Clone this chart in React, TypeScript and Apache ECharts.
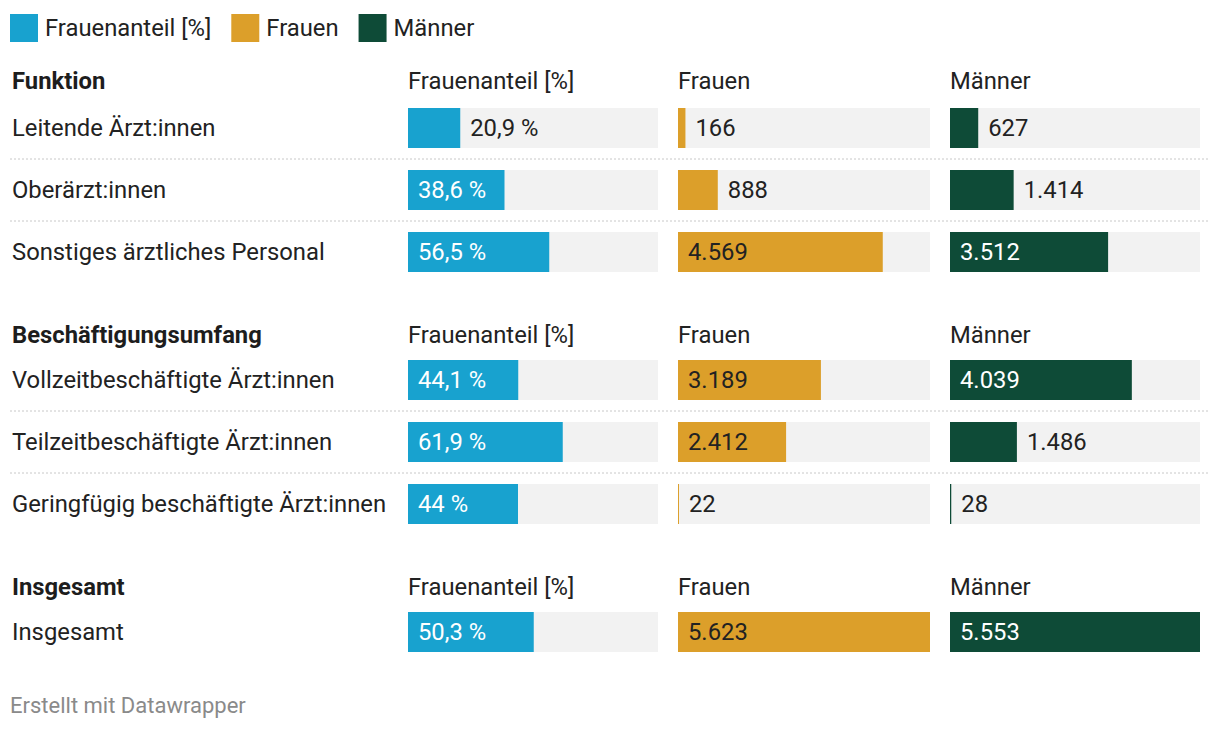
import React, { useEffect, useRef } from "react";
import * as echarts from "echarts";

const sectionTitles = ["Funktion", "Beschäftigungsumfang", "Insgesamt"];
const columnTitles = ["Frauenanteil [%]", "Frauen", "Männer"];

const categoriesFunktion = ["Leitende Ärzt:innen", "Oberärzt:innen", "Sonstiges ärztliches Personal"];
const anteilFunktion = [20.9, 38.6, 56.5];
const frauenFunktion = [166, 888, 4569];
const maennerFunktion = [627, 1414, 3512];

const categoriesUmfang = [
  "Vollzeitbeschäftigte Ärzt:innen",
  "Teilzeitbeschäftigte Ärzt:innen",
  "Geringfügig beschäftigte Ärzt:innen",
];
const anteilUmfang = [44.1, 61.9, 44];
const frauenUmfang = [3189, 2412, 22];
const maennerUmfang = [4039, 1486, 28];

const categoriesGesamt = ["Insgesamt"];
const anteilGesamt = [50.3];
const frauenGesamt = [5623];
const maennerGesamt = [5553];

const sections = [
  { cats: categoriesFunktion, cols: [anteilFunktion, frauenFunktion, maennerFunktion] },
  { cats: categoriesUmfang, cols: [anteilUmfang, frauenUmfang, maennerUmfang] },
  { cats: categoriesGesamt, cols: [anteilGesamt, frauenGesamt, maennerGesamt] },
];

const colors = ["#18a2cf", "#dc9f2a", "#0e4b37"];
const insideTextColors = ["#ffffff", "#222222", "#ffffff"];
const colLeft = [408, 678, 950];
const colWidth = [250, 252, 250];
const firstRowCenter = [128, 380, 632];
const headerY = [81, 335, 587];
const ROW = 62;
const BAR = 40;
const FS = 23.8;

function fmtNum(v: number): string {
  return String(v).replace(/\B(?=(\d{3})+(?!\d))/g, ".");
}
function fmtPct(v: number): string {
  return String(v).replace(".", ",") + " %";
}

export default function App() {
  const ref = useRef<HTMLDivElement>(null);
  useEffect(() => {
    document.body.style.margin = "0";
    if (!ref.current) return;
    const chart = echarts.init(ref.current, undefined, { renderer: "svg" });

    const colMax = [
      100,
      Math.max(...sections.flatMap((s) => s.cols[1])),
      Math.max(...sections.flatMap((s) => s.cols[2])),
    ];

    const grid: any[] = [];
    const xAxis: any[] = [];
    const yAxis: any[] = [];
    const series: any[] = [];
    const graphic: any[] = [];

    sections.forEach((sec, si) => {
      const top = firstRowCenter[si] - ROW / 2;
      graphic.push({
        type: "text",
        x: 12,
        y: headerY[si],
        style: {
          text: sectionTitles[si],
          fontSize: FS,
          fontWeight: "bold",
          fill: "#1d1d1d",
          fontFamily: "Roboto",
          verticalAlign: "middle",
        },
      });
      columnTitles.forEach((ct, ci) => {
        graphic.push({
          type: "text",
          x: colLeft[ci],
          y: headerY[si],
          style: {
            text: ct,
            fontSize: FS,
            fill: "#222",
            fontFamily: "Roboto",
            verticalAlign: "middle",
          },
        });
      });
      for (let r = 0; r < sec.cats.length - 1; r++) {
        const y = firstRowCenter[si] + ROW / 2 + r * ROW;
        graphic.push({
          type: "line",
          shape: { x1: 10, y1: y, x2: 1208, y2: y },
          style: { stroke: "#c8c8c8", lineWidth: 1, lineDash: [2, 2] },
        });
      }
      sec.cols.forEach((vals, ci) => {
        const idx = grid.length;
        grid.push({
          left: colLeft[ci],
          width: colWidth[ci],
          top,
          height: sec.cats.length * ROW,
          containLabel: false,
        });
        xAxis.push({
          type: "value",
          gridIndex: idx,
          min: 0,
          max: colMax[ci],
          show: false,
        });
        yAxis.push({
          type: "category",
          gridIndex: idx,
          data: sec.cats,
          inverse: true,
          axisLine: { show: false },
          axisTick: { show: false },
          splitLine: { show: false },
          axisLabel: {
            show: ci === 0,
            align: "left",
            margin: colLeft[0] - 12,
            fontSize: FS,
            color: "#222",
            fontFamily: "Roboto",
          },
        });
        series.push({
          type: "bar",
          name: columnTitles[ci],
          xAxisIndex: idx,
          yAxisIndex: idx,
          barWidth: BAR,
          itemStyle: { color: colors[ci] },
          showBackground: true,
          backgroundStyle: { color: "#f2f2f2" },
          data: vals.map((v) => {
            const inside = v / colMax[ci] > 0.3;
            return {
              value: v,
              label: {
                show: true,
                position: inside ? "insideLeft" : "right",
                distance: 10,
                color: inside ? insideTextColors[ci] : "#222",
                fontSize: FS,
                fontFamily: "Roboto",
                formatter: () => (ci === 0 ? fmtPct(v) : fmtNum(v)),
              },
            };
          }),
        });
      });
    });

    graphic.push({
      type: "text",
      x: 10,
      y: 705,
      style: {
        text: "Erstellt mit Datawrapper",
        fontSize: 22,
        fill: "#8a8a8a",
        fontFamily: "Roboto",
        verticalAlign: "middle",
      },
    });

    chart.setOption({
      animation: false,
      backgroundColor: "#ffffff",
      textStyle: { fontFamily: "Roboto" },
      legend: {
        data: columnTitles,
        left: 10,
        top: 14,
        icon: "rect",
        itemWidth: 28,
        itemHeight: 28,
        itemGap: 20,
        padding: 0,
        selectedMode: false,
        textStyle: { fontSize: FS, color: "#222", fontFamily: "Roboto", padding: [0, 0, 0, 2] },
      },
      grid,
      xAxis,
      yAxis,
      series,
      graphic,
    });
    return () => chart.dispose();
  }, []);
  return <div ref={ref} style={{ width: 1220, height: 730 }} />;
}
